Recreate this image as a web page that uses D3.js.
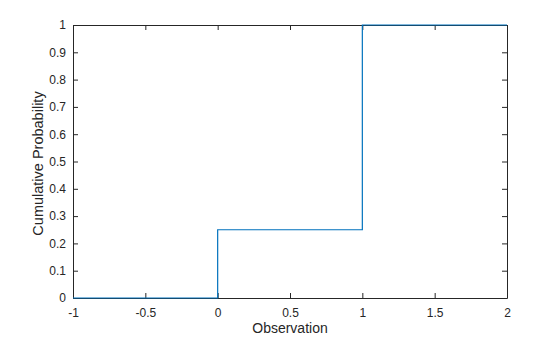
<!DOCTYPE html>
<html>
<head>
<meta charset="utf-8">
<script src="https://cdn.jsdelivr.net/npm/d3@7"></script>
<style>
body { margin: 0; background: #fff; }
text { font-family: "Liberation Sans", Arial, sans-serif; fill: #262626; }
</style>
</head>
<body>
<script>
// ecdf points (step after)
var stepX = [-1, 0, 1, 2];
var stepY = [0, 0.25, 1, 1];
var xTicks = [-1, -0.5, 0, 0.5, 1, 1.5, 2];
var yTicks = [0, 0.1, 0.2, 0.3, 0.4, 0.5, 0.6, 0.7, 0.8, 0.9, 1];

var W = 560, H = 337;
var mLeft = 73, mRight = 507, mTop = 25, mBottom = 298;

var svg = d3.select('body').append('svg')
    .attr('width', W)
    .attr('height', H);

var x = d3.scaleLinear().domain([-1, 2]).range([mLeft, mRight]);
var y = d3.scaleLinear().domain([0, 1]).range([mBottom, mTop]);

// plain hyphen minus like the original
var fmt = function (d) { return String(d); };

var axisCol = '#262626';
var tl = 5;

var gx = svg.append('g').attr('transform', 'translate(0,' + mBottom + ')')
    .call(d3.axisBottom(x).tickValues(xTicks).tickFormat(fmt).tickSizeInner(-tl).tickSizeOuter(0).tickPadding(10));
var gy = svg.append('g').attr('transform', 'translate(' + mLeft + ',0)')
    .call(d3.axisLeft(y).tickValues(yTicks).tickFormat(fmt).tickSizeInner(-tl).tickSizeOuter(0).tickPadding(7));
var gt = svg.append('g').attr('transform', 'translate(0,' + mTop + ')')
    .call(d3.axisTop(x).tickValues(xTicks).tickFormat('').tickSizeInner(-tl).tickSizeOuter(0));
var gr = svg.append('g').attr('transform', 'translate(' + mRight + ',0)')
    .call(d3.axisRight(y).tickValues(yTicks).tickFormat('').tickSizeInner(-tl).tickSizeOuter(0));

[gx, gy, gt, gr].forEach(function (g) {
    g.selectAll('path').attr('stroke', axisCol).attr('stroke-width', 1);
    g.selectAll('line').attr('stroke', axisCol).attr('stroke-width', 1);
    g.selectAll('text').attr('font-size', 12).attr('fill', axisCol)
        .style('font-family', '"Liberation Sans", Arial, sans-serif');
});

var line = d3.line()
    .x(function (d, i) { return x(stepX[i]); })
    .y(function (d, i) { return y(stepY[i]); })
    .curve(d3.curveStepAfter);

svg.append('path')
    .datum(stepX)
    .attr('d', line)
    .attr('fill', 'none')
    .attr('stroke', '#0072BD')
    .attr('stroke-width', 1.2);

svg.append('text')
    .attr('x', (mLeft + mRight) / 2)
    .attr('y', 333)
    .attr('text-anchor', 'middle')
    .attr('font-size', 14)
    .text('Observation');

svg.append('text')
    .attr('transform', 'translate(43,' + ((mTop + mBottom) / 2 + 2) + ') rotate(-90)')
    .attr('text-anchor', 'middle')
    .attr('font-size', 14.5)
    .text('Cumulative Probability');
</script>
</body>
</html>
